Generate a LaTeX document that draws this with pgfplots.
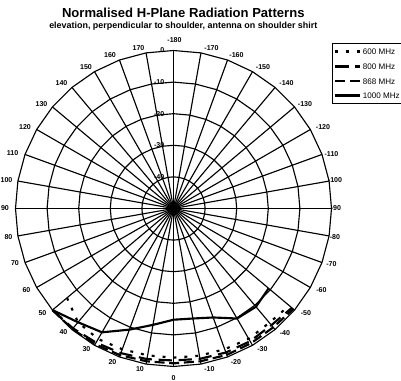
\documentclass[border=0pt]{standalone}
\usepackage{pgfplots}
\usepackage{pgfplotstable}
\usepackage{fontspec}
\setmainfont{Liberation Sans}
\pgfplotsset{compat=1.18}

% pattern centre and scale (px units, 3.16 px per dB, -50 dB at the centre)
\def\cx{173.5}
\def\cy{172.5}
\def\pxdb{3.16}

% normalised level (dB) against angle (deg)
\pgfplotstableread{
ang db
50  -6.0
40  -3.0
30  -2.3
20  -2.6
10  -2.8
0   -2.8
-10 -2.7
-20 -2.6
-30 -2.4
-40 -2.8
-50 -2.2
}\tblsix
\pgfplotstableread{
ang db
50  0.0
40  -0.5
30  -1.0
20  -1.3
10  -1.6
0   -1.9
-10 -1.7
-20 -1.5
-30 -1.5
-40 -1.8
-50 -1.1
}\tbleight
\pgfplotstableread{
ang db
50  0.0
40  -0.2
30  -0.4
20  -0.6
10  -0.9
0   -1.0
-10 -0.9
-20 -0.7
-30 -0.8
-40 -0.9
-50 -0.5
}\tbleightsixeight
\pgfplotstableread{
ang db
50  0.0
40  -3.0
30  -4.75
20  -9.2
10  -12.6
0   -14.8
-10 -14.65
-20 -13.3
-30 -9.8
-40 -9.4
-50 -10.7
}\tblthousand

\pgfplotsset{
  table/radar/.style={
    x expr={\cx+\pxdb*(\thisrow{db}+50)*cos(270-\thisrow{ang})},
    y expr={\cy+\pxdb*(\thisrow{db}+50)*sin(270-\thisrow{ang})}},
}

\begin{document}
\begin{tikzpicture}
\begin{axis}[
  scale only axis, width=300.75pt, height=285.75pt,
  xmin=0, xmax=401, ymin=0, ymax=381,
  hide axis, clip=false,
  legend style={at={(0.8287,0.8863)}, anchor=north west, draw=black,
    line width=0.6pt, fill=white, font=\fontsize{6.05}{7}\selectfont,
    inner xsep=1pt, inner ysep=3.2pt, row sep=5.4pt,
    nodes={inner xsep=1pt, inner ysep=0.5pt, text height=4.6pt, text depth=0pt}},
  legend cell align=left,
  legend image code/.code={\draw[#1, line width=1.9pt] (0cm,0cm) -- (0.66cm,0cm);},
]
% bounding corners
\coordinate (bbsw) at (axis cs:0,0);
\coordinate (bbne) at (axis cs:401,381);

% level rings (36-sided) and angle spokes
\pgfplotsextra{
  \foreach \k in {1,...,5} {
    \draw[line width=0.85pt, black]
      ({\cx+31.6*\k},{\cy}) \foreach \t in {10,20,...,360} {
        -- ({\cx+31.6*\k*cos(\t)},{\cy+31.6*\k*sin(\t)}) } -- cycle;
  }
  \foreach \t in {0,10,...,350} {
    \draw[line width=0.85pt, black] (\cx,\cy) -- ({\cx+158*cos(\t)},{\cy+158*sin(\t)});
  }
  % angle labels
  \foreach \c/\x/\y in {-180/174.5/40, -170/211.5/48.5, -160/236.5/55.5,
      -150/263/67.5, -140/286.5/83.5, -130/305/104.5, -120/323/127.5,
      -110/331.5/154.5, -100/335/180.5, -90/336/208.5, -80/335/237.5,
      -70/331.5/264, -60/321.5/290.5, -50/306/313.5, -40/285/333.5,
      -30/262.5/349.5, -20/236/362.5, -10/209.5/369, 0/173.5/378.5,
      10/140/369, 20/112.5/362.5, 30/86.5/349.5, 40/63.5/332.5,
      50/42.5/313.5, 60/26.5/290.5, 70/15/263.5, 80/8.5/237.5,
      90/5/208.5, 100/6.5/180, 110/12.5/153.5, 120/25/127.5,
      130/41.5/104.5, 140/61.5/83.5, 150/86/67.5, 160/110/55,
      170/138.5/48.5} {
    \node[font=\fontsize{5.3}{6}\selectfont\bfseries, inner sep=0pt]
      at (\x,{381-\y}) {\c};
  }
  % level labels
  \foreach \k/\v in {5/0,4/-10,3/-20,2/-30,1/-40} {
    \node[font=\fontsize{5.3}{6}\selectfont\bfseries, inner sep=0pt, anchor=east]
      at (164.5,{\cy+31.6*\k}) {\v};
  }
  % titles
  \node[font=\fontsize{9.8}{11}\selectfont\bfseries] at (183.3,368)
    {Normalised H-Plane Radiation Patterns};
  \node[font=\fontsize{6.7}{8}\selectfont\bfseries] at (183.3,355)
    {elevation, perpendicular to shoulder, antenna on shoulder shirt};
}

\addplot[black, line width=1.6pt, dash pattern=on 2.2pt off 6pt] table[radar] {\tblsix};
\addlegendentry{600 MHz}
\addplot[black, line width=1.6pt, dash pattern=on 10pt off 5pt] table[radar] {\tbleight};
\addlegendentry{800 MHz}
\addplot[black, line width=1.6pt, dash pattern=on 7.5pt off 3.5pt] table[radar] {\tbleightsixeight};
\addlegendentry{868 MHz}
\addplot[black, line width=1.6pt] table[radar] {\tblthousand};
\addlegendentry{1000 MHz}
\end{axis}
\pgfresetboundingbox
\useasboundingbox (bbsw) rectangle (bbne);
\end{tikzpicture}
\end{document}
